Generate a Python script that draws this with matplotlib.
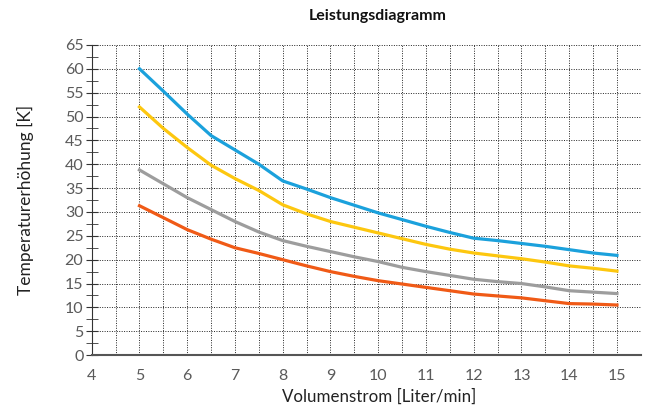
import numpy as np
import matplotlib.pyplot as plt
from matplotlib.ticker import MultipleLocator

plt.rcParams['font.family'] = ['Lato', 'DejaVu Sans']

#volume flow in liter/min
flow = [5, 5.5, 6, 6.5, 7, 7.5, 8, 8.5, 9, 9.5, 10, 10.5, 11, 11.5, 12, 12.5, 13, 13.5, 14, 14.5, 15]

#temperature rise in K, one curve per power level
blue = [60, 55.3, 50.5, 46, 43, 40, 36.5, 34.8, 33, 31.4, 29.8, 28.4, 27, 25.7, 24.5, 24, 23.4, 22.8, 22.1, 21.4, 20.9]
yellow = [52, 47.5, 43.5, 39.8, 37, 34.5, 31.5, 29.6, 28, 26.8, 25.6, 24.4, 23.2, 22.2, 21.4, 20.8, 20.2, 19.5, 18.7, 18.2, 17.6]
gray = [38.8, 35.9, 33, 30.5, 28, 25.8, 24, 22.8, 21.7, 20.6, 19.6, 18.4, 17.5, 16.7, 15.9, 15.4, 15, 14.3, 13.5, 13.2, 12.9]
orange = [31.3, 28.8, 26.3, 24.3, 22.5, 21.3, 20, 18.7, 17.5, 16.5, 15.6, 14.9, 14.2, 13.5, 12.8, 12.4, 12, 11.4, 10.8, 10.7, 10.5]

x_ticks = [4, 5, 6, 7, 8, 9, 10, 11, 12, 13, 14, 15]
y_ticks = [0, 5, 10, 15, 20, 25, 30, 35, 40, 45, 50, 55, 60, 65]

fig = plt.figure(figsize=(6.46, 4.12), dpi=100)
ax = fig.add_axes([0.142, 0.138, 0.85, 0.753])

ax.plot(flow, blue, color='#1ba1dc', lw=2.3)
ax.plot(flow, yellow, color='#fdc70f', lw=2.3)
ax.plot(flow, gray, color='#9d9d9d', lw=2.3)
ax.plot(flow, orange, color='#f05a16', lw=2.3)

ax.set_xlim(4, 15.5)
ax.set_ylim(0, 65)
ax.set_xticks(x_ticks)
ax.set_yticks(y_ticks)
ax.xaxis.set_minor_locator(MultipleLocator(0.5))
ax.yaxis.set_minor_locator(MultipleLocator(2.5))

#dotted grid: vertical every 0.5, horizontal every 5
ax.grid(True, which='major', axis='y', color='#222222', ls=(0, (1, 1.5)), lw=0.7)
ax.grid(True, which='both', axis='x', color='#222222', ls=(0, (1, 1.5)), lw=0.7)

for s in ['top', 'right']:
    ax.spines[s].set_visible(False)
ax.spines['left'].set_color('#333333')
ax.spines['bottom'].set_color('#555555')
ax.spines['bottom'].set_linewidth(1.5)

ax.tick_params(axis='y', which='both', direction='inout', length=8, color='#333333',
               labelsize=11.5, labelcolor='#5a5a5a', pad=2)
ax.tick_params(axis='x', which='both', length=0, labelsize=11.5, labelcolor='#5a5a5a', pad=10)

ax.set_xlabel('Volumenstrom [Liter/min]', fontsize=12.2, color='#222222')
ax.xaxis.set_label_coords(0.523, -0.108)
ax.set_ylabel('Temperaturerhöhung [K]', fontsize=12.5, color='#222222', labelpad=22)
fig.text(0.584, 0.962, 'Leistungsdiagramm', ha='center', va='center',
         fontsize=11.5, fontweight='bold', color='#111111')

fig.savefig('out.png', dpi=100)
